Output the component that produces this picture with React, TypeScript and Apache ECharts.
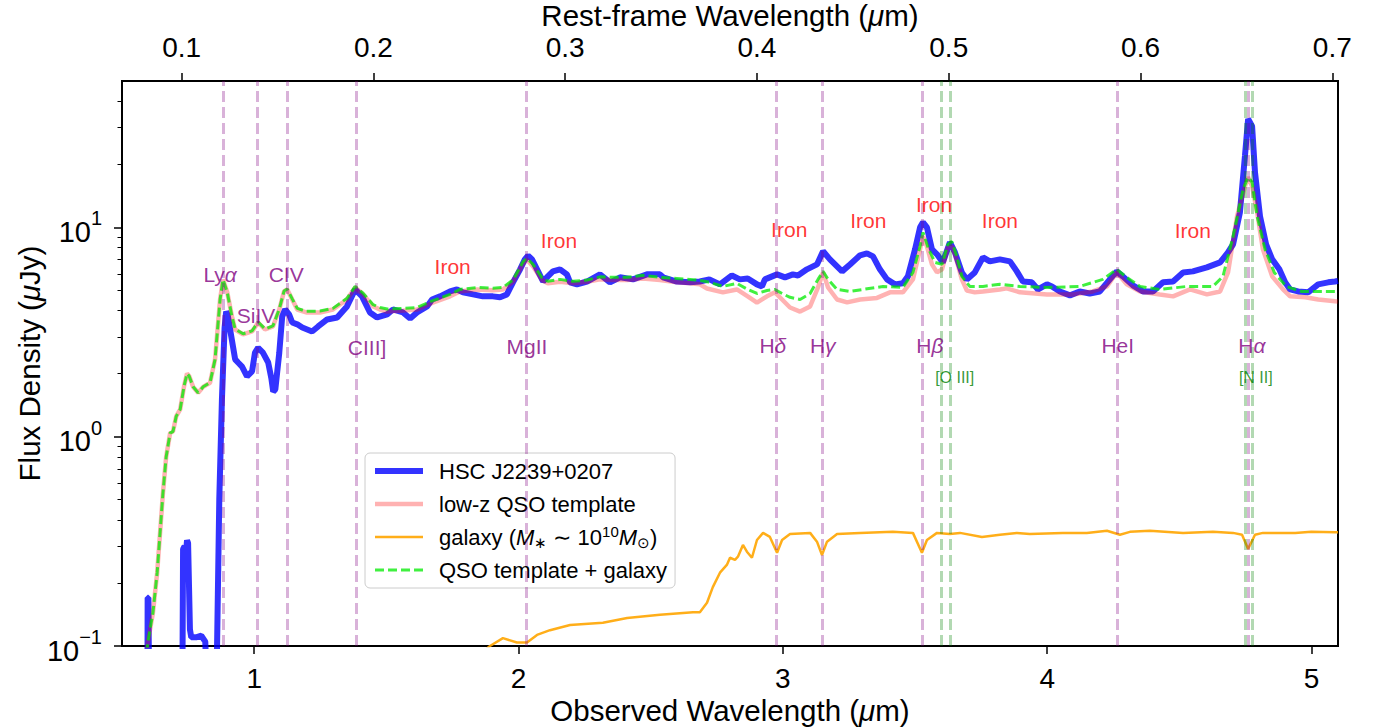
import React, { useEffect, useRef } from 'react';
import * as echarts from 'echarts';

const FONT = "'Liberation Sans', Arial, Helvetica, sans-serif";
const ONE_PLUS_Z = 7.255;
const OBS_MIN = 0.5;
const OBS_MAX = 5.1;
const FLUX_MIN = 0.1;
const FLUX_MAX = 50;

const obsTicks = [1, 2, 3, 4, 5];
const restTicks = [0.1, 0.2, 0.3, 0.4, 0.5, 0.6, 0.7];
const fluxTicks = [0.1, 1, 10];
const fluxMinorTicks = [0.2, 0.3, 0.4, 0.5, 0.6, 0.7, 0.8, 0.9, 2, 3, 4, 5, 6, 7, 8, 9, 20, 30, 40];

// rest-frame wavelengths (micron) of marked lines
const hLines = [0.1216, 0.1397, 0.1549, 0.1909, 0.2798, 0.4102, 0.4341, 0.4861, 0.5876, 0.6563];
const forbiddenLines = [0.4959, 0.5007, 0.6548, 0.6584];

const seriesNames = ['HSC J2239+0207', 'low-z QSO template', 'galaxy', 'QSO template + galaxy'];

// observed wavelength (micron), flux density (uJy)
const hscData = [
  [0.585, 0.05], [0.596, 0.05], [0.597, 0.17], [0.600, 0.17], [0.603, 0.05], [0.728, 0.05], [0.731, 0.29], [0.737, 0.30],
  [0.742, 0.28], [0.746, 0.32], [0.750, 0.31], [0.757, 0.12], [0.762, 0.11], [0.780, 0.11], [0.800, 0.112], [0.815, 0.105],
  [0.824, 0.05], [0.856, 0.05], [0.868, 0.5], [0.878, 1.5], [0.888, 3.3], [0.894, 3.96], [0.900, 3.8], [0.909, 3.25],
  [0.928, 2.34], [0.939, 2.26], [0.954, 2.16], [0.973, 1.94], [0.992, 2.05], [1.003, 2.52], [1.015, 2.66], [1.033, 2.52],
  [1.053, 2.26], [1.065, 1.9], [1.072, 1.64], [1.080, 1.68], [1.095, 2.52], [1.106, 3.75], [1.117, 4.05], [1.132, 3.84],
  [1.144, 3.51], [1.163, 3.44], [1.182, 3.32], [1.219, 3.18], [1.242, 3.36], [1.276, 3.63], [1.314, 3.71], [1.351, 4.19],
  [1.382, 5.05], [1.408, 4.68], [1.438, 3.92], [1.465, 3.71], [1.503, 3.84], [1.525, 4.05], [1.563, 3.92], [1.590, 3.67],
  [1.616, 3.92], [1.654, 4.19], [1.673, 4.52], [1.703, 4.68], [1.741, 4.94], [1.767, 5.05], [1.790, 4.89], [1.828, 4.78],
  [1.865, 4.68], [1.903, 4.68], [1.930, 4.63], [1.956, 4.78], [1.979, 5.46], [2.006, 6.30], [2.024, 7.03], [2.036, 7.33],
  [2.051, 7.03], [2.070, 6.30], [2.093, 5.51], [2.111, 5.83], [2.130, 6.16], [2.157, 6.30], [2.183, 5.96], [2.195, 5.46],
  [2.221, 5.34], [2.259, 5.51], [2.308, 5.96], [2.346, 5.46], [2.384, 5.77], [2.433, 5.64], [2.486, 5.96], [2.535, 5.96],
  [2.547, 5.77], [2.599, 5.51], [2.649, 5.46], [2.686, 5.51], [2.722, 5.64], [2.762, 5.34], [2.807, 5.89], [2.837, 5.64],
  [2.867, 5.70], [2.902, 5.34], [2.921, 5.22], [2.932, 5.64], [2.978, 5.96], [3.008, 5.77], [3.038, 5.96], [3.057, 5.89],
  [3.091, 6.30], [3.129, 6.65], [3.152, 7.68], [3.178, 7.03], [3.224, 6.16], [3.254, 6.65], [3.292, 7.35], [3.318, 7.51],
  [3.341, 7.26], [3.367, 6.30], [3.394, 5.64], [3.424, 5.34], [3.454, 5.40], [3.473, 5.83], [3.500, 7.85], [3.519, 10.0],
  [3.530, 10.56], [3.545, 10.0], [3.564, 7.85], [3.583, 7.43], [3.605, 6.80], [3.632, 8.48], [3.651, 7.59], [3.677, 6.09],
  [3.696, 5.64], [3.726, 6.09], [3.757, 7.19], [3.783, 6.88], [3.821, 7.03], [3.859, 6.88], [3.885, 6.16], [3.908, 5.51],
  [3.942, 5.46], [3.965, 5.05], [3.999, 5.34], [4.018, 5.22], [4.048, 4.94], [4.086, 4.73], [4.123, 4.94], [4.161, 4.83],
  [4.199, 4.94], [4.237, 5.64], [4.263, 6.16], [4.286, 5.83], [4.324, 5.28], [4.362, 4.94], [4.400, 4.94], [4.438, 5.46],
  [4.476, 5.51], [4.514, 6.09], [4.551, 6.16], [4.604, 6.44], [4.654, 6.80], [4.684, 7.59], [4.703, 8.29], [4.729, 11.8],
  [4.748, 21.9], [4.760, 32.9], [4.775, 30.4], [4.786, 18.3], [4.805, 11.29], [4.828, 8.29], [4.851, 7.03], [4.878, 6.30],
  [4.900, 5.46], [4.919, 5.05], [4.949, 4.94], [4.987, 4.89], [5.025, 5.34], [5.063, 5.46], [5.089, 5.51], [5.100, 5.55],
];

const qsoTemplateData = [
  [0.590, 0.08], [0.597, 0.103], [0.617, 0.144], [0.633, 0.224], [0.644, 0.347], [0.655, 0.54], [0.667, 0.80], [0.682, 1.04],
  [0.693, 1.06], [0.705, 1.25], [0.720, 1.35], [0.735, 1.75], [0.746, 2.0], [0.754, 1.95], [0.769, 1.73], [0.788, 1.62],
  [0.807, 1.73], [0.833, 1.81], [0.852, 2.34], [0.871, 4.52], [0.882, 5.63], [0.898, 4.9], [0.916, 3.75], [0.928, 3.25],
  [0.958, 3.08], [0.992, 3.18], [1.015, 3.51], [1.041, 3.25], [1.071, 3.36], [1.095, 4.05], [1.113, 4.94], [1.125, 5.05],
  [1.144, 4.52], [1.163, 4.05], [1.197, 3.92], [1.249, 3.92], [1.298, 4.05], [1.351, 4.52], [1.382, 5.16], [1.412, 4.78],
  [1.450, 4.19], [1.476, 4.05], [1.503, 3.96], [1.563, 4.00], [1.616, 4.05], [1.673, 4.35], [1.741, 4.68], [1.778, 4.94],
  [1.843, 5.05], [1.903, 5.0], [1.941, 5.05], [1.979, 5.5], [2.017, 6.7], [2.032, 7.0], [2.055, 6.5], [2.089, 5.6],
  [2.111, 5.4], [2.157, 5.5], [2.206, 5.4], [2.259, 5.5], [2.308, 5.65], [2.357, 5.6], [2.411, 5.6], [2.471, 5.7],
  [2.535, 5.6], [2.599, 5.46], [2.649, 5.4], [2.686, 5.34], [2.713, 5.1], [2.773, 4.89], [2.826, 5.05], [2.867, 4.68],
  [2.902, 4.37], [2.940, 4.68], [2.970, 4.89], [2.997, 4.52], [3.027, 4.14], [3.065, 3.96], [3.103, 4.19], [3.133, 5.16],
  [3.152, 6.09], [3.171, 5.16], [3.205, 4.52], [3.243, 4.38], [3.292, 4.52], [3.356, 4.60], [3.405, 4.89], [3.454, 4.89],
  [3.492, 5.64], [3.519, 7.85], [3.530, 9.05], [3.545, 8.11], [3.564, 6.65], [3.583, 6.09], [3.602, 6.30], [3.624, 8.02],
  [3.639, 8.11], [3.651, 7.43], [3.677, 5.64], [3.696, 4.99], [3.726, 4.89], [3.757, 4.94], [3.821, 5.05], [3.847, 5.11],
  [3.897, 4.89], [3.999, 4.78], [4.097, 4.78], [4.172, 4.94], [4.226, 5.22], [4.263, 6.09], [4.301, 5.34], [4.351, 4.94],
  [4.426, 4.78], [4.476, 4.68], [4.540, 5.05], [4.604, 4.78], [4.654, 4.94], [4.684, 6.09], [4.718, 11.29], [4.748, 15.71],
  [4.760, 17.35], [4.775, 15.71], [4.794, 11.8], [4.816, 7.85], [4.851, 5.83], [4.892, 5.05], [4.919, 4.68], [4.976, 4.63],
  [5.025, 4.52], [5.089, 4.43], [5.100, 4.42],
];

const galaxyData = [
  [1.800, 0.08], [1.892, 0.100], [1.941, 0.109], [1.994, 0.104], [2.032, 0.104], [2.070, 0.113], [2.119, 0.119], [2.195, 0.126],
  [2.319, 0.129], [2.411, 0.136], [2.535, 0.141], [2.660, 0.145], [2.686, 0.145], [2.713, 0.161], [2.735, 0.191], [2.762, 0.224],
  [2.788, 0.244], [2.800, 0.264], [2.819, 0.258], [2.830, 0.267], [2.849, 0.304], [2.864, 0.282], [2.883, 0.264], [2.902, 0.321],
  [2.925, 0.347], [2.951, 0.332], [2.978, 0.279], [2.997, 0.321], [3.027, 0.343], [3.103, 0.347], [3.129, 0.315], [3.148, 0.272],
  [3.167, 0.315], [3.205, 0.343], [3.292, 0.347], [3.416, 0.351], [3.492, 0.347], [3.526, 0.279], [3.545, 0.321], [3.583, 0.347],
  [3.632, 0.343], [3.670, 0.347], [3.753, 0.332], [3.821, 0.340], [3.885, 0.347], [3.934, 0.343], [4.059, 0.347], [4.150, 0.347],
  [4.226, 0.355], [4.275, 0.340], [4.313, 0.351], [4.388, 0.355], [4.514, 0.347], [4.627, 0.351], [4.703, 0.347], [4.737, 0.340],
  [4.760, 0.291], [4.786, 0.340], [4.816, 0.347], [4.938, 0.347], [4.999, 0.351], [5.089, 0.349], [5.100, 0.349],
];

const qsoPlusGalaxyData = [
  [0.590, 0.08], [0.597, 0.103], [0.617, 0.144], [0.633, 0.224], [0.644, 0.347], [0.655, 0.54], [0.667, 0.80], [0.682, 1.04],
  [0.693, 1.06], [0.705, 1.25], [0.720, 1.35], [0.735, 1.75], [0.746, 2.0], [0.754, 1.95], [0.769, 1.73], [0.788, 1.62],
  [0.807, 1.73], [0.833, 1.81], [0.852, 2.34], [0.871, 4.52], [0.882, 5.63], [0.898, 4.9], [0.916, 3.75], [0.928, 3.27],
  [0.958, 3.10], [0.992, 3.20], [1.015, 3.53], [1.041, 3.27], [1.071, 3.38], [1.095, 4.07], [1.113, 4.96], [1.125, 5.07],
  [1.144, 4.55], [1.163, 4.10], [1.197, 3.97], [1.249, 3.98], [1.298, 4.10], [1.351, 4.58], [1.382, 5.22], [1.412, 4.85],
  [1.450, 4.27], [1.476, 4.14], [1.503, 4.07], [1.563, 4.10], [1.616, 4.14], [1.673, 4.45], [1.741, 4.78], [1.778, 5.05],
  [1.843, 5.16], [1.903, 5.11], [1.941, 5.16], [1.979, 5.6], [2.017, 6.85], [2.032, 7.11], [2.055, 6.65], [2.089, 5.75],
  [2.111, 5.52], [2.157, 5.64], [2.206, 5.52], [2.259, 5.60], [2.308, 5.80], [2.357, 5.77], [2.411, 5.77], [2.471, 5.90],
  [2.535, 5.77], [2.599, 5.70], [2.649, 5.64], [2.686, 5.58], [2.713, 5.50], [2.773, 5.22], [2.826, 5.40], [2.867, 5.05],
  [2.902, 4.83], [2.940, 4.99], [2.970, 5.05], [2.997, 4.83], [3.027, 4.63], [3.065, 4.52], [3.103, 4.83], [3.133, 5.64],
  [3.152, 6.16], [3.171, 5.64], [3.205, 5.05], [3.254, 4.94], [3.379, 5.22], [3.454, 5.16], [3.492, 6.09], [3.519, 8.11],
  [3.530, 9.46], [3.549, 8.02], [3.575, 6.80], [3.602, 6.65], [3.624, 8.29], [3.639, 8.57], [3.658, 7.26], [3.677, 5.83],
  [3.707, 5.22], [3.757, 5.22], [3.821, 5.34], [3.897, 5.22], [3.999, 5.16], [4.123, 5.22], [4.210, 5.64], [4.263, 6.30],
  [4.301, 5.77], [4.351, 5.22], [4.426, 5.05], [4.529, 5.22], [4.627, 5.22], [4.665, 5.83], [4.703, 9.06], [4.741, 15.2],
  [4.760, 17.35], [4.775, 16.42], [4.794, 11.29], [4.824, 7.85], [4.859, 6.09], [4.904, 5.22], [4.961, 4.94], [5.025, 4.94],
  [5.089, 4.94], [5.100, 4.94],
];

// annotation labels: [observed wavelength, flux, text]
const lineLabels = [
  [0.871, 5.96, 'Ly{i|α}'], [1.007, 3.79, 'SiIV'], [1.121, 5.96, 'CIV'], [1.427, 2.67, 'CIII]'], [2.032, 2.70, 'MgII'],
  [2.962, 2.72, 'H{i|δ}'], [3.151, 2.72, 'H{i|γ}'], [3.556, 2.72, 'H{i|β}'], [4.267, 2.72, 'HeI'], [4.774, 2.72, 'H{i|α}'],
];
const ironLabels = [
  [1.751, 6.51], [2.153, 8.67], [3.024, 9.78], [3.323, 10.8], [3.572, 12.9], [3.821, 10.8], [4.551, 9.67],
];
const forbiddenLabels = [
  [3.650, 1.915, '[O III]'], [4.789, 1.915, '[N II]'],
];

export default function App() {
  const ref = useRef<HTMLDivElement>(null);
  useEffect(() => {
    if (!ref.current) return;
    const chart = echarts.init(ref.current, undefined, { renderer: 'svg' });
    const tickText = { color: '#000', fontSize: 28, fontFamily: FONT };
    const nameText = { color: '#000', fontSize: 29.5, fontFamily: FONT };
    const nameRich = { i: { fontStyle: 'italic', fontSize: 29.5, fontFamily: FONT, color: '#000' } };
    const tick = { show: true, inside: false, length: 8, lineStyle: { color: '#000', width: 1.5 } };
    const labelRich = { i: { fontStyle: 'italic', fontSize: 21, fontFamily: FONT, color: '#800080' } };

    const option: any = {
      animation: false,
      backgroundColor: '#fff',
      grid: {
        left: 122, top: 81, right: 39, bottom: 82, show: true, borderColor: '#000', borderWidth: 2,
        backgroundColor: 'transparent', outerBoundsMode: 'none', containLabel: false,
      },
      xAxis: [
        {
          type: 'value', position: 'bottom', min: OBS_MIN, max: OBS_MAX,
          name: 'Observed Wavelength ({i|μ}m)', nameLocation: 'middle', nameGap: 49, nameMoveOverlap: false,
          nameTextStyle: { ...nameText, rich: nameRich },
          axisLine: { show: false }, splitLine: { show: false },
          axisTick: { ...tick, customValues: obsTicks },
          axisLabel: { ...tickText, margin: 18, customValues: obsTicks, formatter: (v: number) => String(v) },
        },
        {
          type: 'value', position: 'top', min: OBS_MIN / ONE_PLUS_Z, max: OBS_MAX / ONE_PLUS_Z,
          name: 'Rest-frame Wavelength ({i|μ}m)', nameLocation: 'middle', nameGap: 51, nameMoveOverlap: false,
          nameTextStyle: { ...nameText, rich: nameRich },
          axisLine: { show: false }, splitLine: { show: false },
          axisTick: { ...tick, customValues: restTicks },
          axisLabel: { ...tickText, margin: 20, customValues: restTicks, formatter: (v: number) => v.toFixed(1) },
        },
      ],
      yAxis: [
        {
          type: 'log', logBase: 10, position: 'left', min: FLUX_MIN, max: FLUX_MAX,
          name: 'Flux Density ({i|μ}Jy)', nameLocation: 'middle', nameGap: 78, nameRotate: 90, nameMoveOverlap: false,
          nameTextStyle: { ...nameText, rich: nameRich },
          axisLine: { show: false }, splitLine: { show: false },
          axisTick: { ...tick, customValues: fluxTicks },
          axisLabel: {
            margin: 20, customValues: fluxTicks,
            formatter: (v: number) => {
              const e = Math.round(Math.log10(v));
              return `{b|10}{s|${e < 0 ? '−' + Math.abs(e) : e}}`;
            },
            rich: {
              b: { fontSize: 29, fontFamily: FONT, color: '#000', lineHeight: 38, verticalAlign: 'bottom' },
              s: { fontSize: 20, fontFamily: FONT, color: '#000', lineHeight: 20, verticalAlign: 'top' },
            },
          },
        },
        {
          type: 'log', logBase: 10, position: 'left', min: FLUX_MIN, max: FLUX_MAX,
          axisLine: { show: false }, splitLine: { show: false }, axisLabel: { show: false },
          axisTick: { show: true, inside: false, length: 4.5, customValues: fluxMinorTicks, lineStyle: { color: '#000', width: 1 } },
        },
      ],
      legend: {
        orient: 'vertical', left: 365, top: 453, selectedMode: false,
        data: [
          { name: seriesNames[0], lineStyle: { width: 6, color: 'rgba(0,0,255,0.8)', type: 'solid' } },
          { name: seriesNames[1], lineStyle: { width: 4.5, color: 'rgba(255,0,0,0.3)', type: 'solid' } },
          { name: seriesNames[2], lineStyle: { width: 2.5, color: 'rgba(255,165,0,0.9)', type: 'solid' } },
          { name: seriesNames[3], lineStyle: { width: 3, color: 'rgba(0,235,0,0.75)', type: [9, 4] } },
        ],
        itemWidth: 48, itemHeight: 14, itemGap: 7, padding: [5, 8, 5, 7],
        backgroundColor: 'rgba(255,255,255,0.8)', borderColor: '#cccccc', borderWidth: 1, borderRadius: 5,
        itemStyle: { opacity: 0 },
        formatter: (name: string) =>
          name === 'galaxy' ? 'galaxy ({it|M}{sub|∗} ∼ 10{sup|10}{it|M}{sub|⊙})' : name,
        textStyle: {
          fontSize: 22, fontFamily: FONT, color: '#000', lineHeight: 26, padding: [0, 0, 0, 11],
          rich: {
            it: { fontStyle: 'italic', fontSize: 22, fontFamily: FONT, color: '#000', lineHeight: 26 },
            sub: { fontSize: 15, fontFamily: FONT, color: '#000', lineHeight: 15, verticalAlign: 'bottom' },
            sup: { fontSize: 15, fontFamily: FONT, color: '#000', lineHeight: 15, verticalAlign: 'top' },
          },
        },
      },
      series: [
        {
          name: seriesNames[0], type: 'line', data: hscData, symbol: 'none', showSymbol: false, clip: true,
          lineStyle: { color: 'rgba(0,0,255,0.8)', width: 6 }, itemStyle: { color: 'rgba(0,0,255,0.8)' }, z: 2,
        },
        {
          name: seriesNames[1], type: 'line', data: qsoTemplateData, symbol: 'none', showSymbol: false, clip: true,
          lineStyle: { color: 'rgba(255,0,0,0.3)', width: 4.5 }, itemStyle: { color: 'rgba(255,0,0,0.3)' }, z: 2,
        },
        {
          name: seriesNames[2], type: 'line', data: galaxyData, symbol: 'none', showSymbol: false, clip: true,
          lineStyle: { color: 'rgba(255,165,0,0.9)', width: 2.5 }, itemStyle: { color: 'rgba(255,165,0,0.9)' }, z: 2,
        },
        {
          name: seriesNames[3], type: 'line', data: qsoPlusGalaxyData, symbol: 'none', showSymbol: false, clip: true,
          lineStyle: { color: 'rgba(0,235,0,0.75)', width: 3, type: [9, 4] }, itemStyle: { color: 'rgba(0,235,0,0.75)' }, z: 2,
        },
        {
          name: '_lines', type: 'line', xAxisIndex: 1, yAxisIndex: 0, data: [], symbol: 'none', silent: true, z: 5,
          markLine: {
            silent: true, symbol: ['none', 'none'], label: { show: false }, animation: false, precision: 6,
            lineStyle: { width: 3, type: [11, 5] },
            data: [
              ...hLines.map((v) => ({ xAxis: v, lineStyle: { color: 'rgba(128,0,128,0.3)', width: 3, type: [11, 5] } })),
              ...forbiddenLines.map((v) => ({ xAxis: v, lineStyle: { color: 'rgba(0,128,0,0.3)', width: 3, type: [11, 5] } })),
            ],
          },
        },
        {
          name: '_lineLabels', type: 'scatter', symbolSize: 0, silent: true, z: 10,
          data: lineLabels.map((d) => ({ value: [d[0], d[1]], name: d[2] })),
          label: {
            show: true, position: 'inside', formatter: (p: any) => p.name,
            color: '#800080', fontSize: 21, fontFamily: FONT, rich: labelRich,
          },
        },
        {
          name: '_ironLabels', type: 'scatter', symbolSize: 0, silent: true, z: 10,
          data: ironLabels.map((d) => ({ value: [d[0], d[1]], name: 'Iron' })),
          label: { show: true, position: 'inside', formatter: (p: any) => p.name, color: '#ff0000', fontSize: 21, fontFamily: FONT },
        },
        {
          name: '_forbiddenLabels', type: 'scatter', symbolSize: 0, silent: true, z: 10,
          data: forbiddenLabels.map((d) => ({ value: [d[0], d[1]], name: d[2] })),
          label: { show: true, position: 'inside', formatter: (p: any) => p.name, color: '#008000', fontSize: 16, fontFamily: FONT },
        },
      ],
    };
    chart.setOption(option);
    return () => chart.dispose();
  }, []);
  return <div ref={ref} style={{ position: 'fixed', left: 0, top: 0, width: 1377, height: 728 }} />;
}
